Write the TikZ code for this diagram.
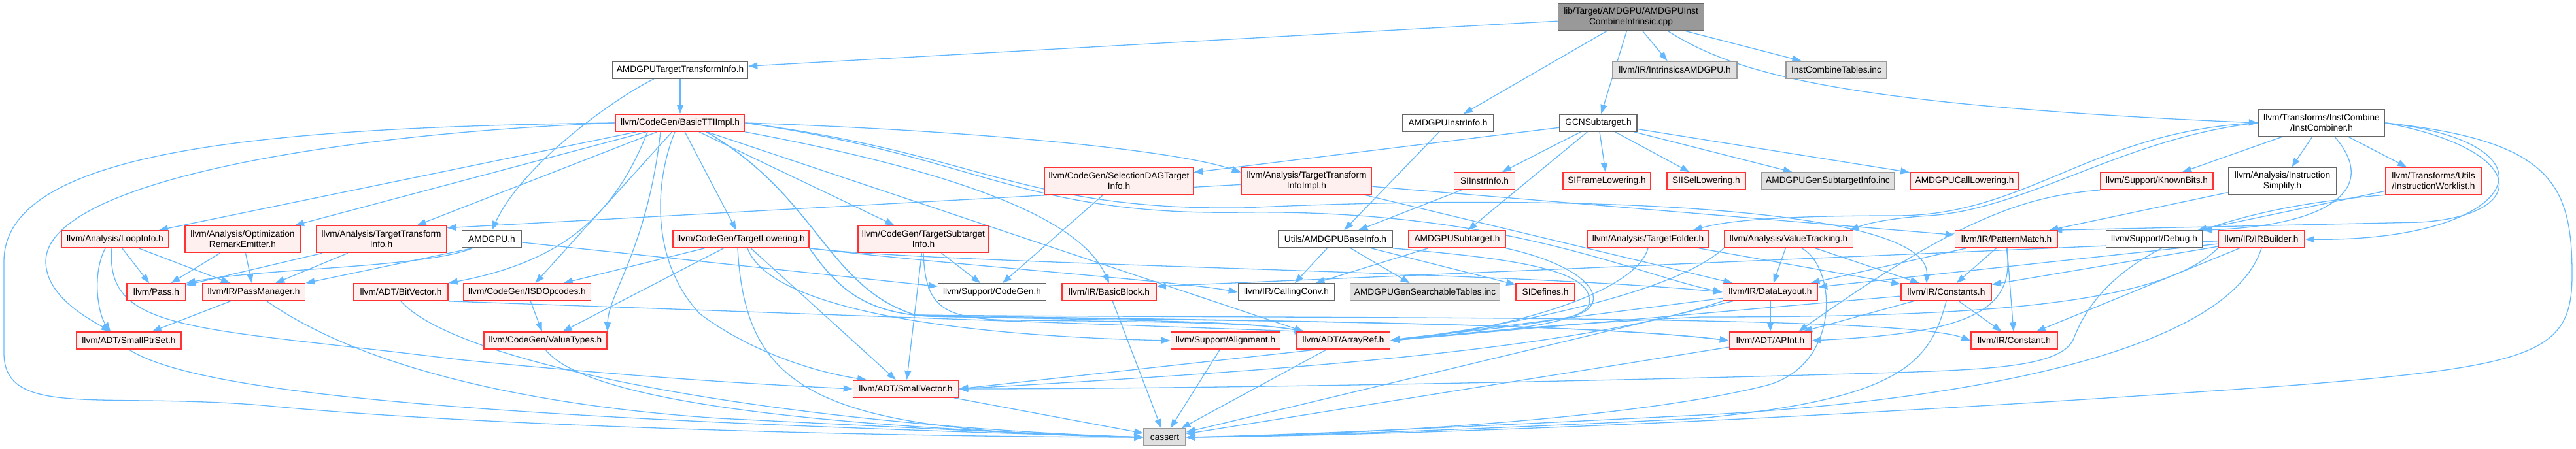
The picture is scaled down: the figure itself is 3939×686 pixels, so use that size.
\documentclass[tikz,border=0pt]{standalone}
\usepackage{fontspec}
\setmainfont{Liberation Sans}
\usetikzlibrary{arrows.meta}
\pgfdeclarelayer{bg}
\pgfsetlayers{bg,main}
\definecolor{edgec}{HTML}{63B8FF}
\definecolor{redb}{HTML}{FF3333}
\definecolor{redf}{HTML}{FFF0F0}
\definecolor{grayb}{HTML}{666666}
\definecolor{lgrayb}{HTML}{999999}
\definecolor{lgrayf}{HTML}{E0E0E0}
\definecolor{darkf}{HTML}{999999}
\tikzset{
  nb/.style={rectangle, inner sep=0pt, minimum height=26pt, align=center,
    font=\fontsize{13.7}{16}\selectfont, line width=1.6pt},
  rbox/.style={nb, draw=redb, fill=redf},
  wbox/.style={nb, draw=grayb, fill=white},
  gbox/.style={nb, draw=lgrayb, fill=lgrayf},
  tbox/.style={nb, draw=grayb, fill=darkf},
  tall/.style={minimum height=41pt},
  dep/.style={draw=edgec, line width=1.3pt, -{Triangle[length=14pt,width=10pt]}}
}
\begin{document}
\begin{tikzpicture}[x=1pt,y=-1pt]
\useasboundingbox (0,0) rectangle (3939,686);
% row 0
\node[tbox,tall,minimum width=223pt] (top) at (2494,26) {lib/Target/AMDGPU/AMDGPUInst\\CombineIntrinsic.cpp};
% row 1
\node[wbox,minimum width=207pt] (atti) at (1040,107) {AMDGPUTargetTransformInfo.h};
\node[gbox,minimum width=190pt] (intr) at (2561,107) {llvm/IR/IntrinsicsAMDGPU.h};
\node[gbox,minimum width=154pt] (ictab) at (2808,107) {InstCombineTables.inc};
% row 2
\node[rbox,minimum width=197pt] (basic) at (1040,188) {llvm/CodeGen/BasicTTIImpl.h};
\node[wbox,minimum width=139pt] (instrinfo) at (2214,188) {AMDGPUInstrInfo.h};
\node[wbox,minimum width=118pt] (gcn) at (2444,188) {GCNSubtarget.h};
\node[wbox,tall,minimum width=193pt] (icomb) at (3550,188) {llvm/Transforms/InstCombine\\/InstCombiner.h};
% row 3
\node[rbox,tall,minimum width=227pt] (sdag) at (1711,277) {llvm/CodeGen/SelectionDAGTarget\\Info.h};
\node[rbox,tall,minimum width=199pt] (ttiimpl) at (1998,277) {llvm/Analysis/TargetTransform\\InfoImpl.h};
\node[rbox,minimum width=93pt] (siinstr) at (2270,277) {SIInstrInfo.h};
\node[rbox,minimum width=134pt] (sifl) at (2457,277) {SIFrameLowering.h};
\node[rbox,minimum width=120pt] (sisel) at (2609,277) {SIISelLowering.h};
\node[gbox,minimum width=203pt] (gensub) at (2795,277) {AMDGPUGenSubtargetInfo.inc};
\node[rbox,minimum width=166pt] (calllow) at (3004,277) {AMDGPUCallLowering.h};
\node[rbox,minimum width=172pt] (known) at (3298,277) {llvm/Support/KnownBits.h};
\node[wbox,tall,minimum width=165pt] (isimp) at (3490,277) {llvm/Analysis/Instruction\\Simplify.h};
\node[rbox,tall,minimum width=146pt] (iwl) at (3721,277) {llvm/Transforms/Utils\\/InstructionWorklist.h};
% row 4
\node[rbox,minimum width=164pt] (loop) at (176,366) {llvm/Analysis/LoopInfo.h};
\node[rbox,tall,minimum width=176pt] (ore) at (371,366) {llvm/Analysis/Optimization\\RemarkEmitter.h};
\node[rbox,tall,minimum width=199pt] (tti) at (583,366) {llvm/Analysis/TargetTransform\\Info.h};
\node[wbox,minimum width=91pt] (amdgpu) at (752,366) {AMDGPU.h};
\node[rbox,minimum width=208pt] (tlow) at (1133,366) {llvm/CodeGen/TargetLowering.h};
\node[rbox,tall,minimum width=200pt] (tsi) at (1412,366) {llvm/CodeGen/TargetSubtarget\\Info.h};
\node[wbox,minimum width=174pt] (baseinfo) at (2042,366) {Utils/AMDGPUBaseInfo.h};
\node[rbox,minimum width=148pt] (amdsub) at (2228,366) {AMDGPUSubtarget.h};
\node[rbox,minimum width=186pt] (tfold) at (2520,366) {llvm/Analysis/TargetFolder.h};
\node[rbox,minimum width=197pt] (vt) at (2735,366) {llvm/Analysis/ValueTracking.h};
\node[rbox,minimum width=157pt] (pm) at (3068,366) {llvm/IR/PatternMatch.h};
\node[wbox,minimum width=147pt] (dbg) at (3294,366) {llvm/Support/Debug.h};
\node[rbox,minimum width=132pt] (irb) at (3458,366) {llvm/IR/IRBuilder.h};
% row 5
\node[rbox,minimum width=90pt] (pass) at (239,447) {llvm/Pass.h};
\node[rbox,minimum width=157pt] (pmgr) at (388,447) {llvm/IR/PassManager.h};
\node[rbox,minimum width=144pt] (bitv) at (613,447) {llvm/ADT/BitVector.h};
\node[rbox,minimum width=195pt] (isd) at (806,447) {llvm/CodeGen/ISDOpcodes.h};
\node[wbox,minimum width=165pt] (cgen) at (1517,447) {llvm/Support/CodeGen.h};
\node[rbox,minimum width=144pt] (bb) at (1696,447) {llvm/IR/BasicBlock.h};
\node[wbox,minimum width=147pt] (cc) at (1967,447) {llvm/IR/CallingConv.h};
\node[gbox,minimum width=229pt] (gst) at (2179,447) {AMDGPUGenSearchableTables.inc};
\node[rbox,minimum width=90pt] (sidef) at (2363,447) {SIDefines.h};
\node[rbox,minimum width=145pt] (dl) at (2707,447) {llvm/IR/DataLayout.h};
\node[rbox,minimum width=138pt] (consts) at (2976,447) {llvm/IR/Constants.h};
% row 6
\node[rbox,minimum width=160pt] (sps) at (197,521) {llvm/ADT/SmallPtrSet.h};
\node[rbox,minimum width=188pt] (vtypes) at (834,521) {llvm/CodeGen/ValueTypes.h};
\node[rbox,minimum width=167pt] (alig) at (1874,521) {llvm/Support/Alignment.h};
\node[rbox,minimum width=143pt] (aref) at (2054,521) {llvm/ADT/ArrayRef.h};
\node[rbox,minimum width=125pt] (apint) at (2707,521) {llvm/ADT/APInt.h};
\node[rbox,minimum width=132pt] (cnst) at (3080,521) {llvm/IR/Constant.h};
% row 7, 8
\node[rbox,minimum width=161pt] (svec) at (1385,595) {llvm/ADT/SmallVector.h};
\node[gbox,minimum width=64pt] (cassert) at (1781,669) {cassert};

\begin{pgfonlayer}{bg}
% top
\draw[dep] (top) -- (atti);
\draw[dep] (top) -- (instrinfo);
\draw[dep] (top) -- (gcn);
\draw[dep] (top) -- (intr);
\draw[dep] (top) -- (ictab);
\draw[dep] ([xshift=56pt]top.south) .. controls (2650,110) and (2800,160) .. (icomb.west);
% AMDGPUTargetTransformInfo
\draw[dep] (atti) -- (basic);
\draw[dep] ([xshift=-40pt]atti.south) .. controls (940,150) and (800,250) .. (amdgpu.north);
% BasicTTIImpl
\draw[dep] (basic) -- (loop);
\draw[dep] (basic) -- (ore);
\draw[dep] (basic) -- (tti);
\draw[dep] (basic.east) .. controls (1500,200) and (1800,230) .. ([yshift=-8pt]ttiimpl.north west);
\draw[dep] (basic) -- (tlow);
\draw[dep] (basic) -- (tsi);
\draw[dep] (basic.west) .. controls (500,205) and (70,280) .. (70,400) .. controls (70,455) and (140,490) .. ([xshift=-28pt]sps.north);
\draw[dep] (basic.west) .. controls (400,195) and (6,230) .. (6,400) -- (6,540) .. controls (6,640) and (150,600) .. (400,620) .. controls (700,650) and (1300,668) .. (cassert.west);
\draw[dep] ([xshift=-8pt]basic.south) .. controls (1000,280) and (995,400) .. (1070,480) .. controls (1150,540) and (1250,570) .. ([xshift=-60pt]svec.north);
\draw[dep] ([xshift=-50pt]basic.south) .. controls (940,330) and (860,400) .. (bitv.north east);
\draw[dep] (basic) -- (isd);
\draw[dep] ([xshift=-30pt]basic.south) .. controls (990,380) and (930,450) .. (vtypes.north east);
\draw[dep] (basic.south east) .. controls (1450,260) and (1650,330) .. (bb.north);
\draw[dep] (basic) -- ([xshift=12pt]aref.north west);
\draw[dep] ([xshift=40pt]basic.south) .. controls (1250,300) and (1265,440) .. (1400,482) .. controls (1800,490) and (2400,492) .. (apint.west);
\draw[dep] ([xshift=40pt]basic.south) .. controls (1250,300) and (1265,440) .. (1400,482) .. controls (2000,488) and (2900,480) .. (cnst.west);
\draw[dep] (basic.east) .. controls (1500,240) and (1560,330) .. (1900,325) .. controls (2300,320) and (2500,420) .. (dl.west);
\draw[dep] (basic.east) .. controls (1500,235) and (1560,322) .. (1900,318) .. controls (2400,295) and (2950,315) .. ([xshift=-30pt]consts.north);
% AMDGPUInstrInfo, GCNSubtarget
\draw[dep] (instrinfo) -- (baseinfo);
\draw[dep] (gcn) -- ([yshift=-8pt]sdag.north east);
\draw[dep] (gcn) -- (siinstr);
\draw[dep] (gcn) -- (sifl);
\draw[dep] (gcn) -- (sisel);
\draw[dep] (gcn) -- (gensub);
\draw[dep] (gcn) -- (calllow);
\draw[dep] (gcn) -- (amdsub);
% InstCombiner
\draw[dep] (icomb.west) .. controls (3200,200) and (3100,330) .. (2900,330) .. controls (2750,330) and (2650,335) .. ([xshift=-25pt]tfold.north east);
\draw[dep] (icomb.west) .. controls (3250,210) and (3100,320) .. (2950,330) .. controls (2900,333) and (2860,340) .. ([xshift=-6pt]vt.north east);
\draw[dep] (icomb) -- (known);
\draw[dep] (icomb) -- (isimp);
\draw[dep] (icomb) -- (iwl);
\draw[dep] ([xshift=20pt]icomb.south) .. controls (3640,290) and (3560,345) .. (dbg.north east);
\draw[dep] (icomb.east) .. controls (3930,220) and (3850,370) .. (irb.east);
\draw[dep] (icomb.east) .. controls (3870,230) and (3870,330) .. (3700,340) -- ([xshift=-8pt]pm.north east);
\draw[dep] (icomb.east) .. controls (3900,215) and (3933,280) .. (3933,420) .. controls (3933,540) and (3880,560) .. (3500,590) .. controls (2800,640) and (2200,665) .. (cassert.east);
% third row sources
\draw[dep] (sdag) -- (cgen);
\draw[dep] (ttiimpl) -- ([yshift=-4pt]tti.north east);
\draw[dep] (ttiimpl) -- (dl);
\draw[dep] (ttiimpl) -- (pm);
\draw[dep] (siinstr) -- (baseinfo);
\draw[dep] (known.south west) .. controls (3100,300) and (3000,330) .. ([xshift=-20pt]apint.north east);
\draw[dep] (isimp) -- (pm);
\draw[dep] (iwl) -- (dbg);
\draw[dep] (iwl.south west) .. controls (3250,330) and (3190,470) .. (3170,520) .. controls (3150,560) and (3050,565) .. (2900,570) .. controls (2400,585) and (1800,595) .. (svec.east);
% IRBuilder
\draw[dep] (irb.south west) .. controls (3300,470) and (3000,485) .. (2600,485) .. controls (2300,500) and (2200,515) .. (aref.east);
\draw[dep] (irb) -- ([yshift=9pt]bb.east);
\draw[dep] (irb) -- (cnst);
\draw[dep] (irb) -- (consts);
\draw[dep] (irb) -- (dl);
\draw[dep] (irb.south) .. controls (3400,560) and (2900,620) .. (2600,635) .. controls (2300,650) and (2000,665) .. (cassert.east);
% PatternMatch
\draw[dep] (pm) -- (dl);
\draw[dep] (pm) -- (consts);
\draw[dep] (pm) -- (cnst);
\draw[dep] (pm.south) .. controls (3085,480) and (3000,510) .. (apint.east);
% ValueTracking
\draw[dep] (vt) -- (dl);
\draw[dep] (vt) -- (consts);
\draw[dep] (vt.south west) .. controls (2560,450) and (2300,500) .. (aref.east);
\draw[dep] ([xshift=20pt]vt.south) .. controls (2810,410) and (2815,560) .. (2700,590) .. controls (2500,640) and (2100,665) .. (cassert.east);
% TargetFolder
\draw[dep] (tfold) -- (consts);
\draw[dep] (tfold.south) .. controls (2500,450) and (2300,505) .. (aref.east);
% AMDGPUBaseInfo, AMDGPUSubtarget
\draw[dep] (baseinfo) -- (cc);
\draw[dep] (baseinfo) -- (gst);
\draw[dep] (baseinfo) -- (sidef);
\draw[dep] (baseinfo.south east) .. controls (2300,395) and (2440,410) .. (2430,465) .. controls (2420,500) and (2250,510) .. (aref.east);
\draw[dep] (amdsub) -- (cc);
\draw[dep] (amdsub.south east) .. controls (2440,410) and (2470,470) .. (2400,485) .. controls (2300,505) and (2180,512) .. (aref.east);
% AMDGPU.h
\draw[dep] ([xshift=-30pt]amdgpu.south) .. controls (650,410) and (400,410) .. (pass.north east);
\draw[dep] ([xshift=-30pt]amdgpu.south) -- (pmgr.north east);
\draw[dep] (amdgpu) -- (cgen);
% LoopInfo, ORE, TTI
\draw[dep] ([xshift=-15pt]loop.south) .. controls (140,420) and (150,480) .. ([xshift=-28pt]sps.north);
\draw[dep] (loop) -- (pass);
\draw[dep] (loop) -- (pmgr);
\draw[dep] ([xshift=-5pt]loop.south) .. controls (160,510) and (300,500) .. (700,550) .. controls (1000,580) and (1200,590) .. (svec.west);
\draw[dep] (ore) -- (pass);
\draw[dep] (ore) -- (pmgr);
\draw[dep] (tti) -- (pass);
\draw[dep] (tti) -- (pmgr);
% TargetLowering
\draw[dep] (tlow) -- (isd);
\draw[dep] (tlow) -- (vtypes);
\draw[dep] (tlow) -- (svec);
\draw[dep] (tlow.south east) .. controls (1450,405) and (1800,430) .. (cc.west);
\draw[dep] (tlow.south east) .. controls (1450,405) and (2300,415) .. (dl.west);
\draw[dep] ([xshift=10pt]tlow.south) .. controls (1180,480) and (1500,515) .. (alig.west);
\draw[dep] (tlow.south east) .. controls (1280,440) and (1320,478) .. (1420,484) .. controls (1700,490) and (1900,490) .. ([xshift=12pt]aref.north west);
\draw[dep] (tlow.south east) .. controls (1280,440) and (1320,478) .. (1420,484) .. controls (1800,490) and (2400,492) .. (apint.west);
\draw[dep] ([xshift=-5pt]tlow.south) .. controls (1140,600) and (1250,660) .. (cassert.west);
% TargetSubtargetInfo
\draw[dep] (tsi) -- (cgen);
\draw[dep] (tsi) -- (svec);
\draw[dep] (tsi.south) .. controls (1415,470) and (1440,488) .. (1550,490) .. controls (1800,492) and (1930,495) .. ([xshift=12pt]aref.north west);
% row 5 sources
\draw[dep] (pmgr) -- (sps);
\draw[dep] ([xshift=20pt]pmgr.south) .. controls (550,560) and (800,620) .. (1100,640) .. controls (1400,655) and (1600,665) .. (cassert.west);
\draw[dep] (bitv.south east) -- ([xshift=12pt]aref.north west);
\draw[dep] (bitv.south) .. controls (700,560) and (1200,650) .. (cassert.west);
\draw[dep] (isd) -- (vtypes);
\draw[dep] (bb) -- (cassert);
\draw[dep] (dl) -- (apint);
\draw[dep] (dl) -- (aref.east);
\draw[dep] (dl.south west) .. controls (2400,540) and (1900,570) .. (svec.east);
\draw[dep] (dl) -- (cassert);
\draw[dep] (consts) -- (apint);
\draw[dep] (consts) -- (aref.east);
\draw[dep] (consts) -- (cnst);
\draw[dep] (consts.south) .. controls (2950,560) and (2900,610) .. (2600,640) .. controls (2300,655) and (2000,667) .. (cassert.east);
% row 6 sources
\draw[dep] (sps.south) .. controls (300,600) and (700,640) .. (cassert.west);
\draw[dep] (vtypes.south) .. controls (900,620) and (1300,655) .. (cassert.west);
\draw[dep] (alig) -- (cassert);
\draw[dep] ([xshift=-40pt]aref.south) -- (svec.east);
\draw[dep] (aref) -- (cassert);
\draw[dep] (apint) -- (cassert);
\draw[dep] (svec) -- (cassert);
\end{pgfonlayer}
\end{tikzpicture}
\end{document}
